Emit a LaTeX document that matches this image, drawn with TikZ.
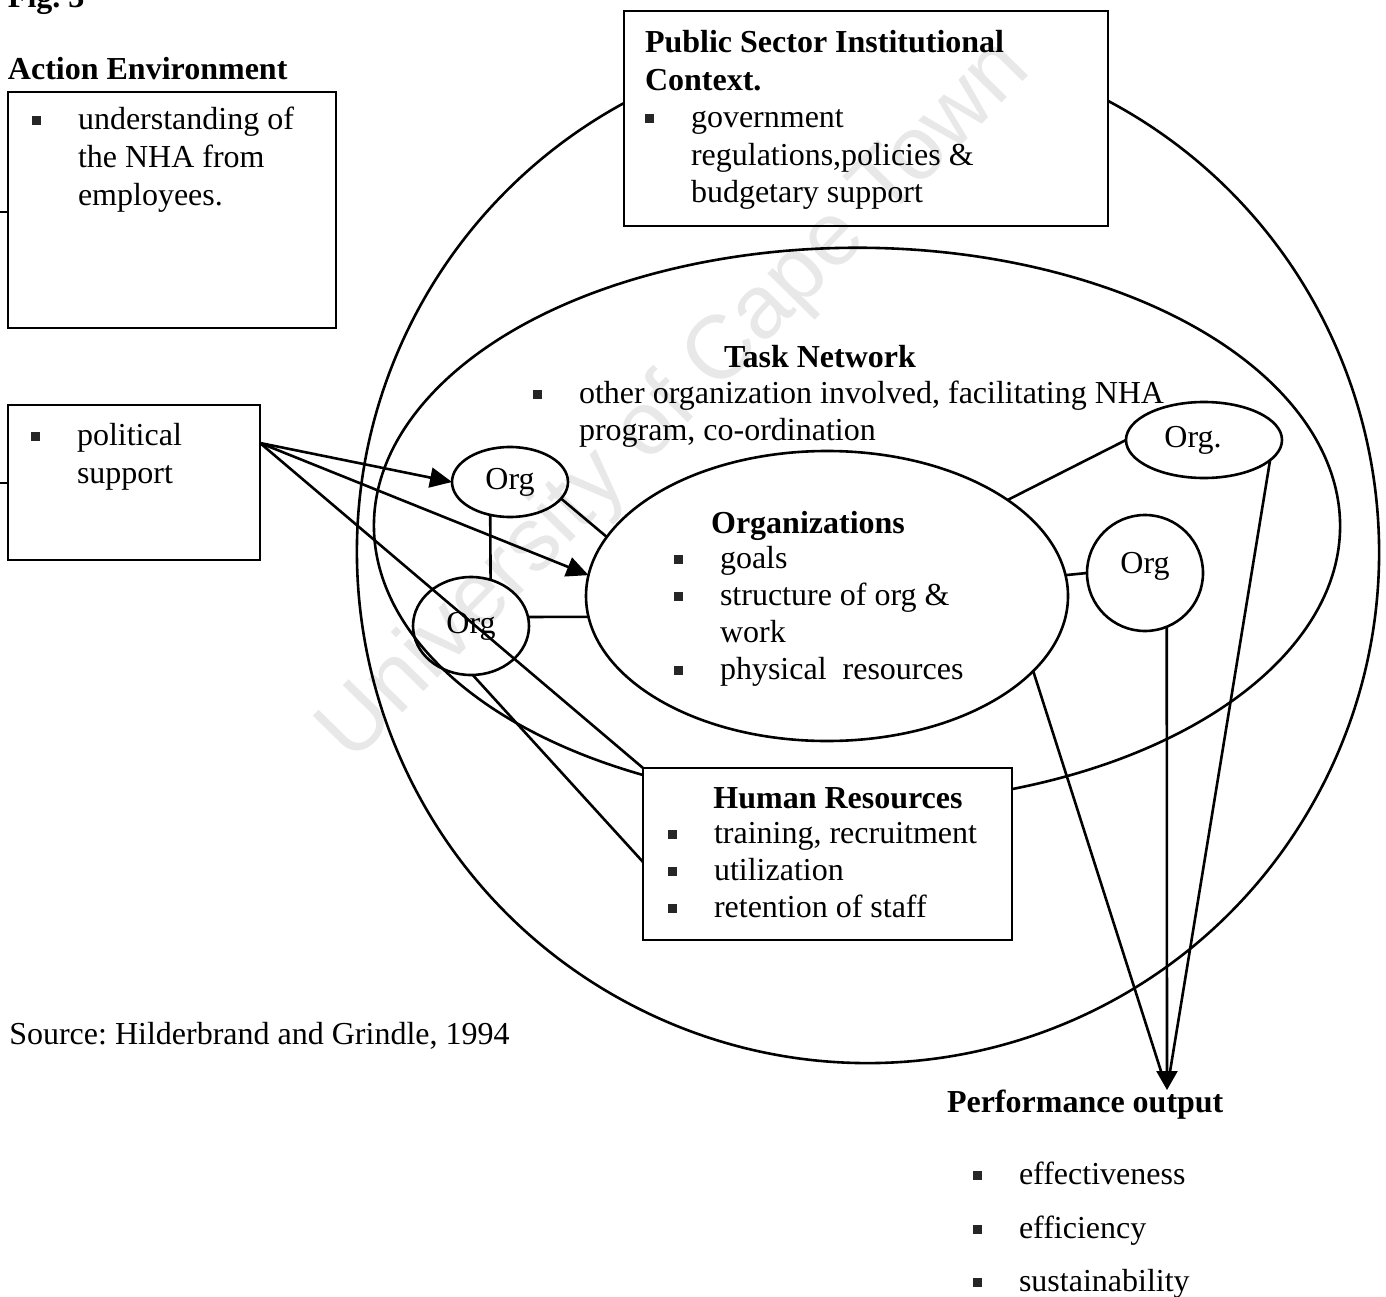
\documentclass[tikz,border=0pt]{standalone}
\usepackage{fontspec}
\setmainfont{Liberation Serif}
\newfontfamily\wmfont{Liberation Sans}
\usetikzlibrary{shapes.geometric,arrows.meta,calc}
\frenchspacing

% square bullet and hanging-indent helpers
\newcommand\bsq{\raisebox{4.5pt}{\color{black!85}\rule{9pt}{9pt}}}
\newcommand\bitem[1]{\makebox[46pt][l]{\bsq}#1}
\newcommand\bcont[1]{\hspace*{46pt}#1}

\begin{document}
\begin{tikzpicture}[x=1pt,y=-1pt,line width=2.6pt,
  box/.style={draw,rectangle,inner sep=0pt,outer sep=0pt,anchor=north west},
  oval/.style={draw,ellipse,inner sep=0pt,outer sep=0pt,font=\fontsize{32}{38}\selectfont},
  txt/.style={inner sep=0pt,outer sep=0pt,align=left,anchor=north west,font=\fontsize{32}{38}\selectfont},
  hd/.style={inner sep=0pt,outer sep=0pt,font=\fontsize{32}{38}\selectfont\bfseries},
  arr/.style={-{Triangle[length=22pt,width=20pt]}},
  arrdown/.style={-{Triangle[length=19pt,width=21pt]}}]
\useasboundingbox (0,0) rectangle (1386,1297);

% watermark
\node[rotate=45.5,anchor=base west,inner sep=0pt,text=black!9,
      font=\wmfont\fontsize{90}{90}\selectfont] (wm) at (352,765) {University of Cape Town};

% outer context circle (interrupted by the Public Sector box)
\draw ([shift={(-62:511)}]868,552) arc[start angle=-62,end angle=241.4,radius=511];
% task network ellipse (interrupted by the Human Resources box)
\draw ([shift={(116.2:483 and 280)}]857,524) arc[start angle=116.2,end angle=431.3,x radius=483,y radius=278];

% boxes
\node[box,minimum width=328pt,minimum height=236pt] (aebox) at (8,92) {};
\node[box,minimum width=252pt,minimum height=155pt] (pol) at (8,405) {};
\node[box,minimum width=484pt,minimum height=215pt] (pub) at (624,11) {};
\node[box,minimum width=369pt,minimum height=172pt] (hr) at (643,768) {};

% organisations
\node[oval,minimum width=482pt,minimum height=290pt] (orgs) at (827,596) {};
\node[oval,minimum width=116pt,minimum height=70pt] (org1) at (510,482) {Org};
\node[oval,minimum width=116pt,minimum height=98pt] (org2) at (471,626) {Org};
\node[oval,minimum width=116pt,minimum height=116pt] (orgR) at (1145,573) {\raisebox{0pt}[0pt][0pt]{Org}};
\node[oval,minimum width=156pt,minimum height=76pt] (org3) at (1204,440) {Org.\kern22pt};

% texts
\node[hd,anchor=base west] (fig) at (8,8) {Fig. 3};
\node[hd,anchor=base west] (aetitle) at (8,80) {Action Environment};
\node[txt] (aetext) at (32,103.4) {\strut\bitem{understanding of}\\\bcont{the NHA from}\\\bcont{employees.}};
\node[txt] (poltext) at (31,418.4) {\strut\bitem{political}\\\bcont{support}};
\node[txt,font=\fontsize{32}{37.5}\selectfont] (pubtext) at (645,26.75)
  {\strut\textbf{Public Sector Institutional}\\\textbf{Context.}\\\bitem{government}\\\bcont{regulations,policies \&}\\\bcont{budgetary support}};
\node[hd,anchor=base] (tntitle) at (820,367) {Task Network};
\node[txt,font=\fontsize{32}{37}\selectfont] (tntext) at (533,377.1)
  {\strut\bitem{other organization involved, facilitating NHA}\\\bcont{program, co-ordination}};
\node[hd,anchor=base] (orgstitle) at (808,533) {Organizations};
\node[txt,font=\fontsize{32}{37.3}\selectfont] (orgstext) at (674,541.9)
  {\strut\bitem{goals}\\\bitem{structure of org \&}\\\bcont{work}\\\bitem{physical~~resources}};
\node[hd,anchor=base] (hrtitle) at (838,808) {Human Resources};
\node[txt,font=\fontsize{32}{37}\selectfont] (hrtext) at (668,817.1)
  {\strut\bitem{training, recruitment}\\\bitem{utilization}\\\bitem{retention of staff}};
\node[inner sep=0pt,anchor=base west,font=\fontsize{32}{38}\selectfont] (src) at (8,1044)
  {Source: Hilderbrand and Grindle, 1994};
\node[hd,anchor=base west] (perftitle) at (947,1112) {Performance output};
\node[txt,font=\fontsize{32}{53.5}\selectfont] (perflist) at (973,1147.5)
  {\strut\bitem{effectiveness}\\\bitem{efficiency}\\\bitem{sustainability}};

% connectors
\coordinate (polc) at ([yshift=-38pt]pol.north east);
\coordinate (aeout) at (0,212);
\coordinate (polout) at (0,483);
\coordinate (perf) at (1167,1090);

\draw (aebox.west |- aeout) -- (aeout);
\draw (pol.west |- polout) -- (polout);

\draw[arr] (polc) -- (org1.west);
\draw[arr] (polc) -- (orgs.175.5);
\draw (polc) -- (hr.north west);

\draw (org1.-121.2) -- (org2.67.6);
\draw (org1.-18) -- (orgs.165.2);
\draw (org2.9) -- (orgs.185);
\draw (org2.-88) -- ([yshift=-94pt]hr.north west);

\draw (orgs.5.3) -- (orgR.west);
\draw (orgs.28.3) -- (org3.west);

\draw[arrdown] (orgR.-68.7) -- (perf);
\draw[shorten >=8pt] (orgs.-20.5) -- (perf);
\draw[shorten >=8pt] (org3.-17.2) -- (perf);
\end{tikzpicture}
\end{document}
